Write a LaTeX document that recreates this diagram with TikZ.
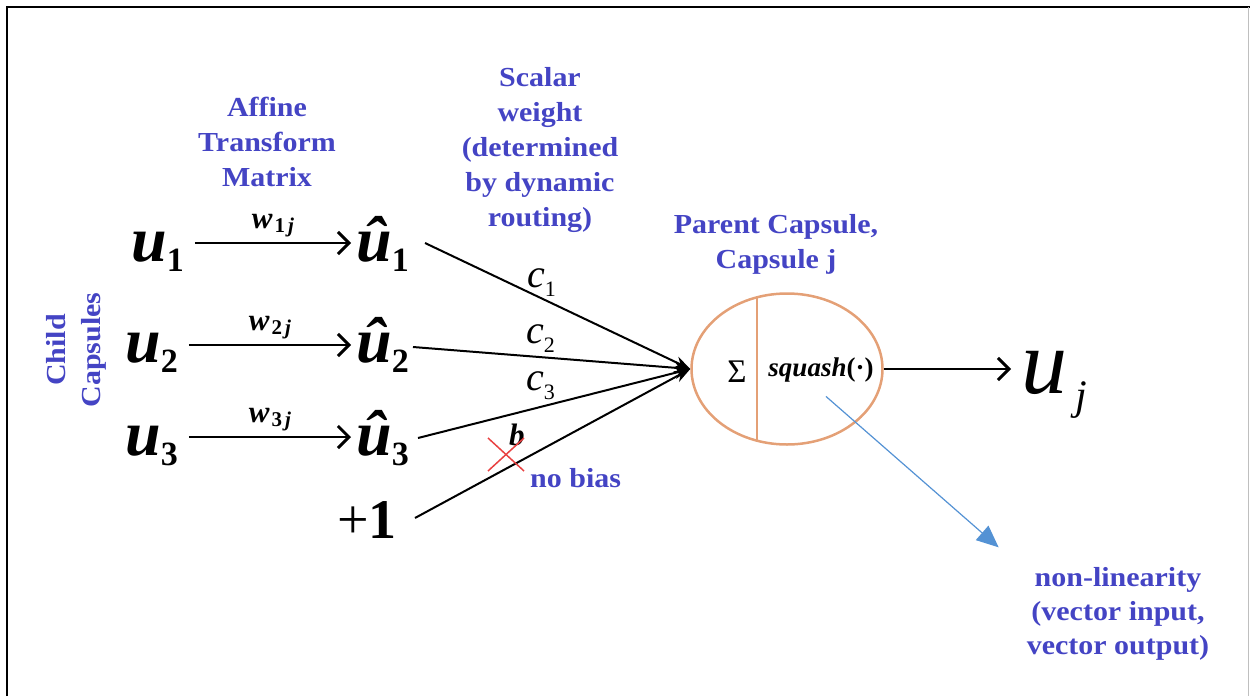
\documentclass[tikz,border=0pt]{standalone}
\usepackage{fontspec}
\setmainfont{Liberation Serif}
\newfontfamily\lblfont[FakeStretch=1.09]{Liberation Serif}
\usetikzlibrary{arrows.meta,calc,shapes.geometric}

\definecolor{lblblue}{RGB}{68,68,196}
\definecolor{capsorange}{RGB}{228,160,118}
\definecolor{ptrblue}{RGB}{84,146,212}
\definecolor{xred}{RGB}{232,64,64}

% bold italic vector symbol with a bold subscript
\newcommand\vecsym[2]{{\fontsize{64}{64}\selectfont\bfseries\itshape #1}\raisebox{-10pt}{\fontsize{34}{34}\selectfont\bfseries #2}}
% transform weight w_{ij}
\newcommand\wsym[1]{{\fontsize{31}{31}\selectfont\bfseries\itshape w}\hspace{2pt}\raisebox{-4pt}{\fontsize{21}{21}\selectfont\bfseries #1\hspace{3pt}\itshape j}}
% coupling coefficient c_i
\newcommand\csym[1]{{\fontsize{40}{40}\selectfont\itshape c}\raisebox{-9pt}{\fontsize{22}{22}\selectfont #1}}

\begin{document}
\begin{tikzpicture}[x=1pt,y=-1pt,
  lbl/.style={text=lblblue, font={\lblfont\bfseries\fontsize{27.5}{35}\selectfont}, align=center, inner sep=0},
  sym/.style={inner sep=0, anchor=base west},
  map/.style={line width=1.6pt, -{Straight Barb[length=11pt,width=22pt,line width=3pt]}},
  feed/.style={line width=2pt, -{Stealth[length=16pt,width=12pt]}},
  ptr/.style={draw=ptrblue, line width=1.2pt, -{Triangle[length=22pt,width=19pt,fill=ptrblue]}},
  capsule/.style={draw=capsorange, line width=2.5pt, ellipse, minimum width=191pt, minimum height=151pt, inner sep=0}]

\useasboundingbox (0,0) rectangle (1250,696);

% frame
\draw[line width=2pt] (7,696) -- (7,7) -- (1250,7);
\draw[black!25, line width=1.5pt] (1248.5,7) -- (1248.5,696);

% headings
\node[lbl] (affine) at (267,142) {Affine\\Transform\\Matrix};
\node[lbl] (scalar) at (540,150) {Scalar\\weight\\(determined\\by dynamic\\routing)};
\node[lbl] (parent) at (776,244) {Parent Capsule,\\Capsule j};
\node[lbl, rotate=90] (child) at (76,350) {Child\\Capsules};
\node[lbl, font={\lblfont\bfseries\fontsize{27.5}{34}\selectfont}] (nl) at (1118,614) {non-linearity\\(vector input,\\vector output)};

% child capsules and predictions
\node[sym] (u1) at (131,261) {\vecsym{u}{1}};
\node[sym] (u2) at (125,362) {\vecsym{u}{2}};
\node[sym] (u3) at (125,455) {\vecsym{u}{3}};
\node[sym] (uh1) at (356,261) {\vecsym{û}{1}};
\node[sym] (uh2) at (356,362) {\vecsym{û}{2}};
\node[sym] (uh3) at (356,455) {\vecsym{û}{3}};
\node[sym] (one) at (337,538) {\fontsize{56}{56}\selectfont +\textbf{1}};

\draw[map] ([shift={(11,-18)}]u1.base east) -- ([shift={(-5,-18)}]uh1.base west)
  node[midway, above=5pt, inner sep=0] (w1) {\wsym{1}};
\draw[map] ([shift={(11,-17)}]u2.base east) -- ([shift={(-5,-17)}]uh2.base west)
  node[midway, above=5pt, inner sep=0] (w2) {\wsym{2}};
\draw[map] ([shift={(11,-18)}]u3.base east) -- ([shift={(-5,-18)}]uh3.base west)
  node[midway, above=5pt, inner sep=0] (w3) {\wsym{3}};

% parent capsule
\node[capsule] (cap) at (787,369) {};
\draw[capsorange, line width=1.8pt] ([shift={(-30,-71)}]cap.center) -- ([shift={(-30,71)}]cap.center);
\node[inner sep=0, font=\fontsize{33}{33}\selectfont] (sig) at (737,372) {Σ};
\node[inner sep=0, font=\fontsize{27}{27}\selectfont] (sq) at (821,370) {\textbf{\textit{squash}}\textbf{(·)}};

% weighted inputs into the capsule
\draw[feed] ([shift={(16,-18)}]uh1.base east) -- (cap.west);
\draw[feed] ([shift={(4,-15)}]uh2.base east) -- (cap.west);
\draw[feed] ([shift={(9,-17)}]uh3.base east) -- (cap.west);
\draw[feed] ([shift={(18,-20)}]one.base east) -- (cap.west);

\node[sym] (c1) at (527,287) {\csym{1}};
\node[sym] (c2) at (526,343) {\csym{2}};
\node[sym] (c3) at (526,390) {\csym{3}};
\node[sym, font=\fontsize{31}{31}\selectfont\bfseries\itshape] (b) at (509,445) {b};

% crossed-out bias
\draw[xred, line width=1.5pt] (488,438) -- (524,471) (488,471) -- (524,438);
\node[lbl, anchor=west] (nobias) at (530,478) {no bias};

% output
\node[sym] (uj) at (1021,393) {{\fontsize{92}{92}\selectfont\itshape u}\hspace{8pt}\raisebox{-16pt}{\fontsize{42}{42}\selectfont\itshape j}};
\draw[map, shorten >=10pt] (cap.east) -- (cap.east -| uj.west);

% pointer to the non-linearity note
\draw[ptr] ([shift={(5,14)}]sq.south) -- ([shift={(-28,-20)}]nl.north west);
\end{tikzpicture}
\end{document}
